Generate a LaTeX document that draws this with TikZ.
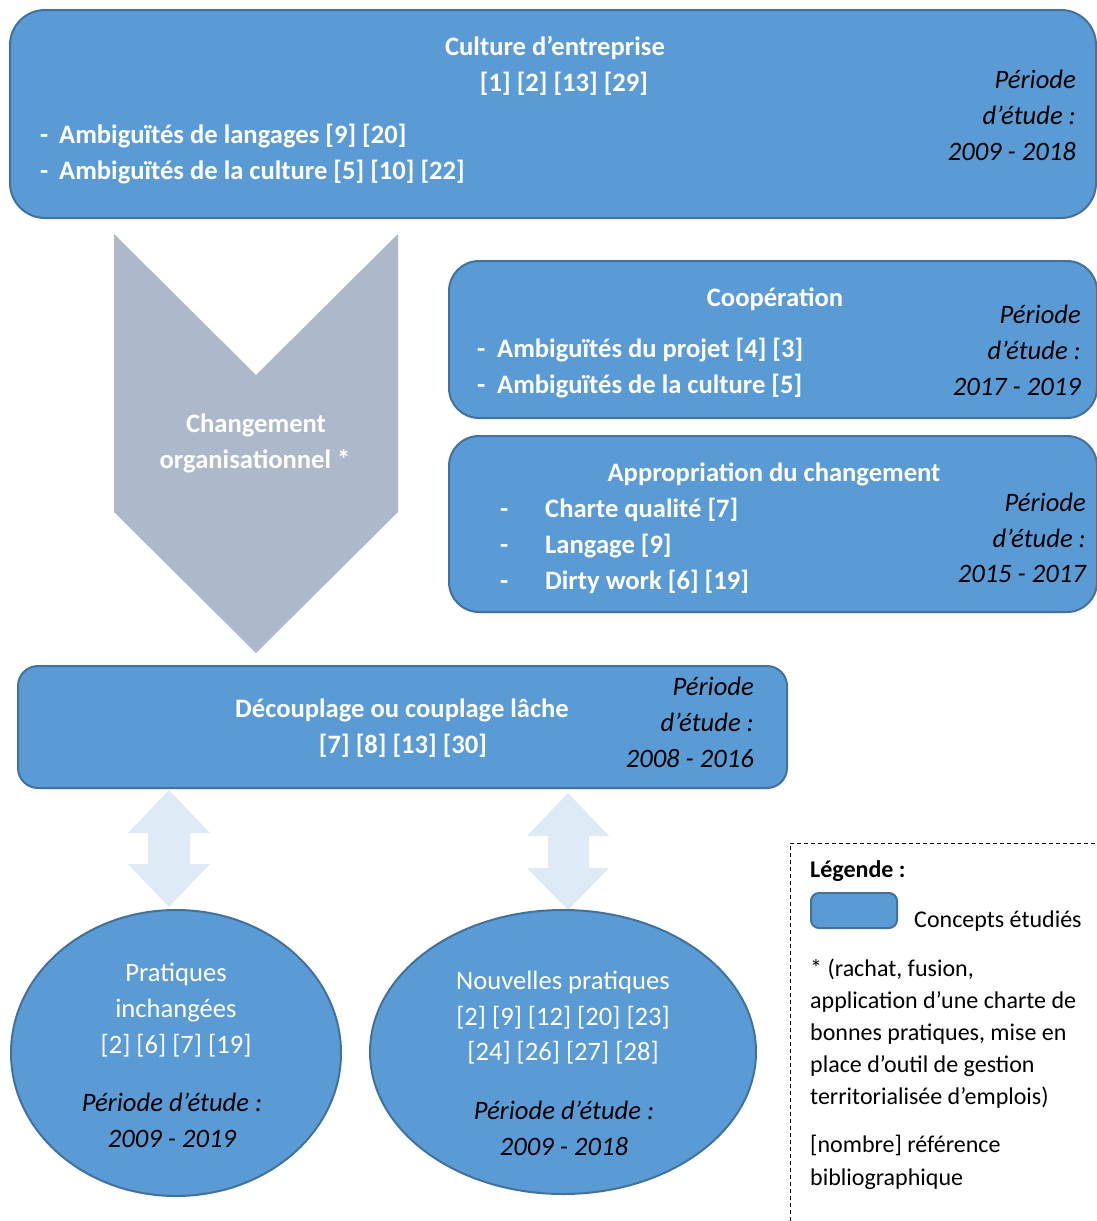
\documentclass[tikz,border=0pt]{standalone}
\usepackage{fontspec}
\setmainfont{Carlito}
\usetikzlibrary{shapes.geometric}
\definecolor{boxblue}{HTML}{5B9BD5}
\definecolor{boxedge}{HTML}{41719C}
\definecolor{chevgray}{HTML}{ADB9CA}
\definecolor{arrpale}{HTML}{DEEAF6}
\begin{document}
\begin{tikzpicture}[x=1pt,y=-1pt,
  concept/.style={draw=boxedge, line width=2pt, fill=boxblue, rectangle, inner sep=0pt},
  ell/.style={draw=boxedge, line width=2pt, fill=boxblue, ellipse, inner sep=0pt},
  wt/.style={text=white, font=\fontsize{26.6}{30}\selectfont\bfseries, inner sep=0pt, anchor=base},
  wtl/.style={wt, anchor=base west},
  wn/.style={text=white, font=\fontsize{26.6}{30}\selectfont, inner sep=0pt, anchor=base},
  per/.style={text=black, font=\fontsize{26.6}{30}\selectfont\itshape, inner sep=0pt, anchor=base east},
  perc/.style={per, anchor=base},
  leg/.style={text=black, font=\fontsize{24}{28}\selectfont, inner sep=0pt, anchor=base west},
  legb/.style={leg, font=\fontsize{24}{28}\selectfont\bfseries},
  dbl/.style={fill=arrpale, draw=none},
  chev/.style={fill=chevgray, draw=none}
]
\useasboundingbox (0,0) rectangle (1097,1221);

% ---------- Culture d'entreprise ----------
\node[concept, rounded corners=35pt, minimum width=1086pt, minimum height=208pt] (culture) at (553,114) {};
\node[wt] (cult1) at (555,55) {Culture d’entreprise};
\node[wt] (cult2) at (564,91) {[1] [2] [13] [29]};
\node[wtl] (cult3) at (40,143) {\makebox[19pt][l]{-}Ambiguïtés de langages [9] [20]};
\node[wtl] (cult4) at (40,179) {\makebox[19pt][l]{-}Ambiguïtés de la culture [5] [10] [22]};
\node[per] (cultp1) at (1076,88) {Période};
\node[per] (cultp2) at (1076,124) {d’étude :};
\node[per] (cultp3) at (1076,160) {2009 - 2018};

% ---------- Chevron ----------
\fill[chev] (114,234) -- (256,375) -- (398,234) -- (398,512) -- (256,653) -- (114,512) -- cycle;
\node[wt] (chg1) at (256,432) {Changement};
\node[wt] (chg2) at (255,468) {organisationnel *};

% ---------- Coopération ----------
\node[concept, rounded corners=30pt, minimum width=648pt, minimum height=157pt] (coop) at (773,339.5) {};
\node[wt] (coop1) at (775,306) {Coopération};
\node[wtl] (coop2) at (477,357) {\makebox[20pt][l]{-}Ambiguïtés du projet [4] [3]};
\node[wtl] (coop3) at (477,393) {\makebox[20pt][l]{-}Ambiguïtés de la culture [5]};
\node[per] (coopp1) at (1081,323) {Période};
\node[per] (coopp2) at (1081,359) {d’étude :};
\node[per] (coopp3) at (1081,395) {2017 - 2019};

% ---------- Appropriation ----------
\node[concept, rounded corners=30pt, minimum width=648pt, minimum height=176pt] (appro) at (773,524) {};
\node[wt] (appro1) at (774,481) {Appropriation du changement};
\node[wtl] (appro2) at (500,517) {\makebox[45pt][l]{-}Charte qualité [7]};
\node[wtl] (appro3) at (500,553) {\makebox[45pt][l]{-}Langage [9]};
\node[wtl] (appro4) at (500,589) {\makebox[45pt][l]{-}Dirty work [6] [19]};
\node[per] (approp1) at (1086,511) {Période};
\node[per] (approp2) at (1086,547) {d’étude :};
\node[per] (approp3) at (1086,582) {2015 - 2017};

% ---------- Découplage ----------
\node[concept, rounded corners=20pt, minimum width=769pt, minimum height=122pt] (decoup) at (402.5,727) {};
\node[wt] (decoup1) at (402,717) {Découplage ou couplage lâche};
\node[wt] (decoup2) at (403,753) {[7] [8] [13] [30]};
\node[per] (decoupp1) at (754,695) {Période};
\node[per] (decoupp2) at (754,731) {d’étude :};
\node[per] (decoupp3) at (754,767) {2008 - 2016};

% ---------- Double arrows ----------
\fill[dbl] (169,790) -- (210,833) -- (190,833) -- (190,864) -- (210,864) -- (169,907)
  -- (128,864) -- (148,864) -- (148,833) -- (128,833) -- cycle;
\fill[dbl] (568,793) -- (609,836) -- (589,836) -- (589,868) -- (609,868) -- (568,910)
  -- (527,868) -- (548,868) -- (548,836) -- (527,836) -- cycle;

% ---------- Ellipses ----------
\node[ell, minimum width=330pt, minimum height=286pt] (prat) at (176,1053) {};
\node[wn] (prat1) at (176,981) {Pratiques};
\node[wn] (prat2) at (176,1017) {inchangées};
\node[wn] (prat3) at (176,1053) {[2] [6] [7] [19]};
\node[perc] (prat4) at (172,1111) {Période d’étude :};
\node[perc] (prat5) at (172,1147) {2009 - 2019};

\node[ell, minimum width=386pt, minimum height=284pt] (nouv) at (563,1052) {};
\node[wn] (nouv1) at (563,989) {Nouvelles pratiques};
\node[wn] (nouv2) at (563,1025) {[2] [9] [12] [20] [23]};
\node[wn] (nouv3) at (563,1060) {[24] [26] [27] [28]};
\node[perc] (nouv4) at (564,1119) {Période d’étude :};
\node[perc] (nouv5) at (564,1155) {2009 - 2018};

% ---------- Legend ----------
\draw[black, line width=1pt, dash pattern=on 4pt off 3pt] (790,1221) -- (790,843) -- (1097,843);
\node[legb] (leg1) at (810,877) {Légende :};
\node[concept, rounded corners=8pt, minimum width=86pt, minimum height=35pt] (legbox) at (854,910.5) {};
\node[leg] (leg2) at (914,927) {Concepts étudiés};
\node[leg] (leg3) at (810,976) {* (rachat, fusion,};
\node[leg] (leg4) at (810,1008) {application d’une charte de};
\node[leg] (leg5) at (810,1040) {bonnes pratiques, mise en};
\node[leg] (leg6) at (810,1072) {place d’outil de gestion};
\node[leg] (leg7) at (810,1104) {territorialisée d’emplois)};
\node[leg] (leg8) at (810,1152) {[nombre] référence};
\node[leg] (leg9) at (810,1185) {bibliographique};
\end{tikzpicture}
\end{document}
